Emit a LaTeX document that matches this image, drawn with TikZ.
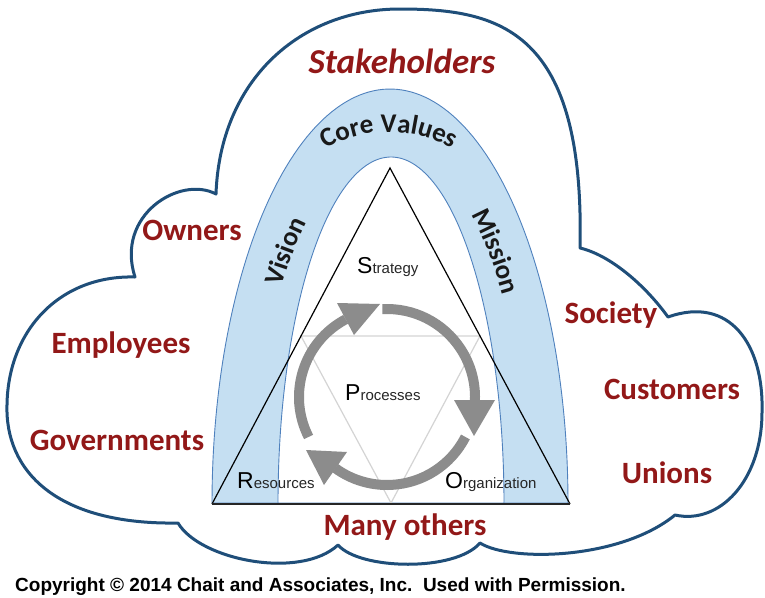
\documentclass[tikz,border=0pt]{standalone}
\usepackage{fontspec}
\setmainfont{Carlito}
\newfontfamily\arialf{Liberation Sans}
\usetikzlibrary{decorations.text,calc}

\definecolor{cloudblue}{RGB}{31,78,121}
\definecolor{labelred}{RGB}{146,24,24}
\definecolor{archfill}{RGB}{197,223,242}
\definecolor{archline}{RGB}{79,129,189}
\definecolor{cyclegray}{RGB}{140,140,140}
\definecolor{medialgray}{RGB}{212,212,212}

\newcommand\archfont{\fontsize{27}{27}\selectfont\bfseries}
\newcommand\bigletter[1]{{\fontsize{23}{23}\selectfont\color{black}#1}}

\begin{document}
\begin{tikzpicture}[x=1pt,y=-1pt,
  cloudline/.style={draw=cloudblue, line width=3pt, line join=round},
  archband/.style={draw=archline, line width=0.9pt},
  redlabel/.style={text=labelred, font=\fontsize{31}{31}\selectfont\bfseries, inner sep=0pt, anchor=base},
  steplabel/.style={font=\arialf\fontsize{15}{15}\selectfont, text=black!85, inner sep=0pt, anchor=base west},
  cyclearc/.style={draw=cyclegray, line width=10pt},
  archtext/.style={decorate, decoration={text along path, text align=center, text color=black!90, text={|\archfont|#1}}}
]
\useasboundingbox (0,0) rectangle (765,597);

% outer cloud of stakeholders
\draw[cloudline] (216,194)
  .. controls (220,80) and (300,9) .. (400,9)
  .. controls (500,9) and (585,30) .. (580,248)
  .. controls (610,255) and (645,285) .. (668,317)
  .. controls (730,295) and (764,345) .. (762,412)
  .. controls (762,480) and (720,525) .. (675,515)
  .. controls (620,560) and (510,562) .. (480,543)
  .. controls (455,572) and (360,570) .. (338,545)
  .. controls (300,580) and (200,560) .. (178,523)
  .. controls (55,525) and (5,470) .. (7,405)
  .. controls (8,330) and (60,275) .. (135,277)
  .. controls (115,215) and (180,175) .. (216,194) -- cycle;

% vision / core values / mission band
\filldraw[archband, fill=archfill] plot[domain=180:360, samples=120] ({390+178*cos(\x)},{503+414*sin(\x)}) -- cycle;
\filldraw[archband, fill=white] plot[domain=180:360, samples=120] ({391+113*cos(\x)},{503+346*sin(\x)}) -- cycle;

% inner medial triangle
\draw[medialgray, line width=1.2pt] (301,336) -- (480,336) -- (391,503) -- cycle;

% main triangle
\coordinate (apex) at (390,168);
\coordinate (bl) at (212,504);
\coordinate (br) at (570,504);
\draw[black, line width=1.2pt] (bl) -- (apex) -- (br);
\draw[black!85, line width=2pt] (bl) -- (br);

% process cycle
\coordinate (cyc) at (387,397);
\draw[cyclearc] ($(cyc)+(153:88)$) arc[start angle=153, end angle=242, radius=88];
\fill[cyclegray] (337,303) -- (354,335) -- (380,304) -- cycle;
\draw[cyclearc] ($(cyc)+(267:88)$) arc[start angle=267, end angle=362, radius=88];
\fill[cyclegray] (454,400) -- (495,400) -- (474,436) -- cycle;
\draw[cyclearc] ($(cyc)+(27:88)$) arc[start angle=27, end angle=126, radius=88];
\fill[cyclegray] (347,452) -- (324,485) -- (306,450) -- cycle;

% curved band labels
\path[archtext=Vision] plot[domain=205:251, samples=40] ({391+138*cos(\x)},{503+355*sin(\x)});
\path[archtext=Mission] plot[domain=289:335, samples=40] ({391+138*cos(\x)},{503+355*sin(\x)});
\path[archtext=Core Values] plot[domain=209:331, samples=60] ({389+128*cos(\x)},{260+128*sin(\x)});

% strategy triangle labels
\node[steplabel] (strat) at (357,273) {\bigletter{S}trategy};
\node[steplabel] (proc) at (345,400) {\bigletter{P}rocesses};
\node[steplabel] (res) at (237,488) {\bigletter{R}esources};
\node[steplabel] (org) at (445,488) {\bigletter{O}rganization};

% stakeholders
\node[redlabel, font=\fontsize{35}{35}\selectfont\bfseries\itshape] (stake) at (402,73) {Stakeholders};
\node[redlabel] (owners) at (192,240) {Owners};
\node[redlabel] (employees) at (121,353) {Employees};
\node[redlabel] (govts) at (117,450) {Governments};
\node[redlabel] (society) at (611,323) {Society};
\node[redlabel] (customers) at (672,399) {Customers};
\node[redlabel] (unions) at (667,483) {Unions};
\node[redlabel] (others) at (405,535) {Many others};

% credit line
\node[anchor=base west, inner sep=0pt, font=\arialf\bfseries\fontsize{19}{19}\selectfont] (credit) at (15,591) {Copyright © 2014 Chait and Associates, Inc.\ \ Used with Permission.};
\end{tikzpicture}
\end{document}
